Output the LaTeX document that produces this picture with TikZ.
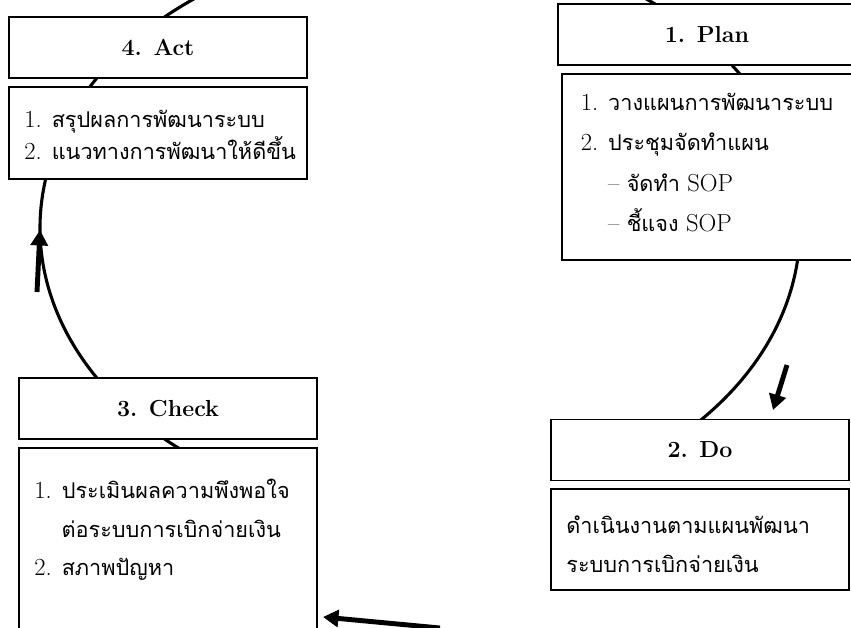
\documentclass[tikz,border=0pt]{standalone}
\usepackage{fontspec}
\newfontfamily\thaifont[Script=Thai, Scale=0.88]{Loma}
\usetikzlibrary{arrows.meta, positioning}

\begin{document}
\begin{tikzpicture}[x=0.025cm, y=0.025cm,
			head/.style={shape=rectangle,
				draw=black,
				fill=white,
				line width=1.2pt,
				minimum width=7.45cm,
				minimum height=1.525cm,
				font=\fontsize{16.5}{20}\selectfont\bfseries},
			bodybox/.style={shape=rectangle,
				draw=black,
				fill=white,
				line width=1.2pt,
				minimum width=7.45cm},
			bodytext/.style={anchor=north west, inner sep=0, align=left,
				font=\fontsize{17.5}{27.5}\selectfont},
			cycle/.style={line width=2.2pt},
			push/.style={line width=3.5pt, -{Triangle[length=11pt, width=12pt]}}]
			
			\useasboundingbox (0,0) rectangle (851,-627);
			
			% the PDCA circle, behind the boxes
			\draw[cycle] (420,-228) ++(-47:380 and 285)
				arc[start angle=-47, end angle=235, x radius=380, y radius=285];
			
			\node[head] at (158,-47.5) (acthead){4. Act};
			\node[head] at (707,-34.5) (planhead){1. Plan};
			\node[head] at (168,-408.5) (checkhead){3. Check};
			\node[head] at (700,-450) (dohead){2. Do};
			
			\node[bodybox, minimum height=2.3cm, below=5pt of acthead] (actbody){};
			\node[bodybox, minimum height=4.65cm, below=5pt of planhead, xshift=3] (planbody){};
			\node[bodybox, minimum height=5.4cm, below=5pt of checkhead] (checkbody){};
			\node[bodybox, minimum height=2.525cm, below=5pt of dohead] (dobody){};
			
			\node[bodytext, font=\fontsize{17.5}{23}\selectfont, below right=0.6cm and 0.4cm of actbody.north west] (acttext)
				{1. {\thaifont สรุปผลการพัฒนาระบบ}\\
				 2. {\thaifont แนวทางการพัฒนาให้ดีขึ้น}};
			\node[bodytext, font=\fontsize{17.5}{28.8}\selectfont, below right=0.5cm and 0.48cm of planbody.north west] (plantext)
				{1. {\thaifont วางแผนการพัฒนาระบบ}\\
				 2. {\thaifont ประชุมจัดทำแผน}\\
				 \hspace*{0.68cm}-- {\thaifont จัดทำ} SOP\\
				 \hspace*{0.68cm}-- {\thaifont ชี้แจง} SOP};
			\node[bodytext, below right=0.8cm and 0.4cm of checkbody.north west] (checktext)
				{1. {\thaifont ประเมินผลความพึงพอใจ}\\
				 \hspace*{0.68cm}{\thaifont ต่อระบบการเบิกจ่ายเงิน}\\
				 2. {\thaifont สภาพปัญหา}};
			\node[bodytext, below right=0.68cm and 0.4cm of dobody.north west] (dotext)
				{{\thaifont ดำเนินงานตามแผนพัฒนา}\\
				 {\thaifont ระบบการเบิกจ่ายเงิน}};
			
			% direction marks along the circle
			\coordinate (upfrom) at (37,-292);
			\coordinate (upto) at (40,-230);
			\coordinate (downfrom) at (787,-365);
			\coordinate (downto) at (773,-410);
			\coordinate (backfrom) at (440,-628);
			\coordinate (backto) at (323,-617);
			\draw[push] (upfrom) -- (upto);
			\draw[push] (downfrom) -- (downto);
			\draw[push] (backfrom) -- (backto);
		\end{tikzpicture}
\end{document}
